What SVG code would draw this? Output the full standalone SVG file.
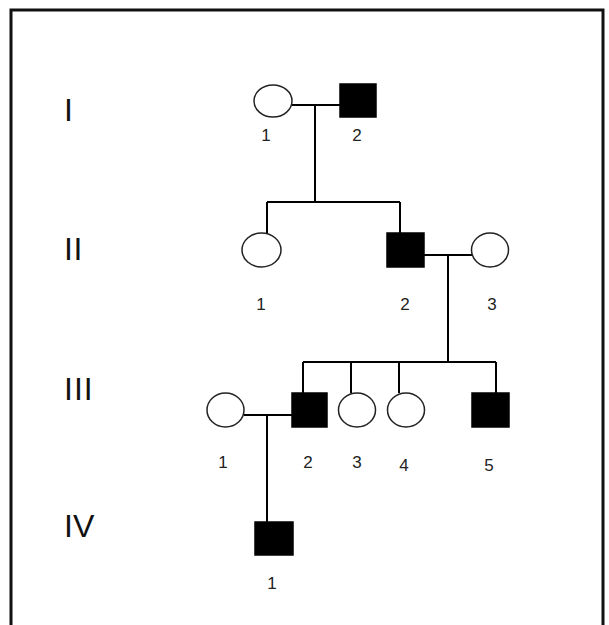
<svg xmlns="http://www.w3.org/2000/svg" width="609" height="625" viewBox="0 0 609 625">
<style>
.f{fill:#fff;stroke:#222;stroke-width:1.5}
.a{fill:#000;stroke:#000;stroke-width:1.5}
.c{fill:none;stroke:#000;stroke-width:2}
.n{font-family:"Liberation Sans",Arial,sans-serif;font-size:17px;fill:#222;text-anchor:middle}
.g{font-family:"Liberation Sans",Arial,sans-serif;font-size:32px;fill:#111}
</style>
<rect x="0" y="0" width="609" height="625" fill="#fff"/>
<path d="M11,625 V10 H603 V625" fill="none" stroke="#111" stroke-width="3"/>
<g id="gen-labels">
<text class="g" x="64" y="121">I</text>
<text class="g" x="64" y="260" letter-spacing="0.5">II</text>
<text class="g" x="64" y="400" letter-spacing="1">III</text>
<text class="g" x="64" y="537">IV</text>
</g>
<g id="connectors">
<path class="c" d="M292,105 H340 M315,105 V202 M267,202 H400 M267,202 V233 M400,202 V233"/>
<path class="c" d="M424,255 H472 M448,255 V362 M303,362 H496 M303,362 V393 M351,362 V393 M399,362 V393 M496,362 V393"/>
<path class="c" d="M244,415 H292 M267,415 V522"/>
</g>
<g id="I-1"><ellipse class="f" cx="273" cy="101" rx="19" ry="16"/><text class="n" x="266" y="141">1</text></g>
<g id="I-2"><rect class="a" x="340" y="84" width="36" height="33"/><text class="n" x="357" y="141">2</text></g>
<g id="II-1"><ellipse class="f" cx="261.5" cy="250" rx="19.5" ry="17"/><text class="n" x="261" y="310">1</text></g>
<g id="II-2"><rect class="a" x="387" y="233" width="37" height="34"/><text class="n" x="405" y="310">2</text></g>
<g id="II-3"><ellipse class="f" cx="490" cy="250" rx="18.5" ry="17"/><text class="n" x="492" y="310">3</text></g>
<g id="III-1"><ellipse class="f" cx="225.5" cy="410" rx="18.5" ry="17"/><text class="n" x="223" y="468">1</text></g>
<g id="III-2"><rect class="a" x="292" y="393" width="35" height="34"/><text class="n" x="308" y="468">2</text></g>
<g id="III-3"><ellipse class="f" cx="357" cy="410" rx="18.5" ry="17"/><text class="n" x="357" y="468">3</text></g>
<g id="III-4"><ellipse class="f" cx="406" cy="410" rx="18.5" ry="17"/><text class="n" x="404" y="471">4</text></g>
<g id="III-5"><rect class="a" x="472" y="393" width="37" height="34"/><text class="n" x="489" y="471">5</text></g>
<g id="IV-1"><rect class="a" x="255" y="522" width="38" height="33"/><text class="n" x="272" y="589">1</text></g>
</svg>
